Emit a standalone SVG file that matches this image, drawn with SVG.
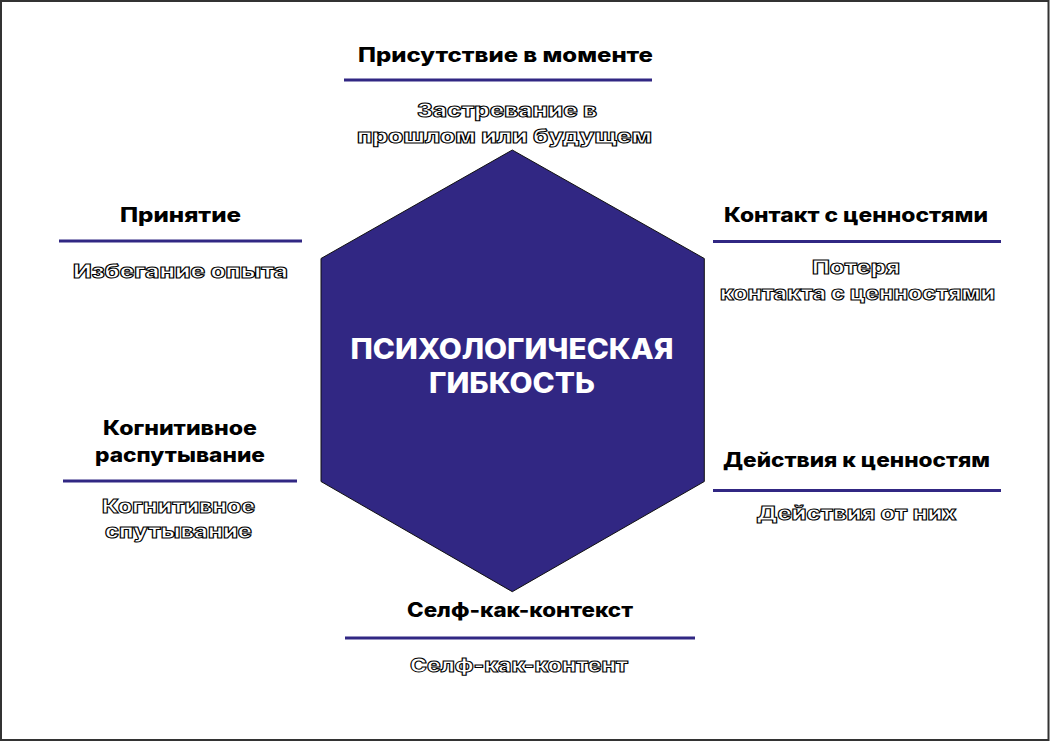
<svg xmlns="http://www.w3.org/2000/svg" width="1050" height="742" viewBox="0 0 1050 742">
<style>
.h{font-family:Inter,"Liberation Sans",sans-serif;font-weight:800;font-size:20px;fill:#000;text-anchor:middle}
.o{font-family:Inter,"Liberation Sans",sans-serif;font-weight:800;font-size:19px;fill:#fff;stroke:#000;stroke-width:1;text-anchor:middle}
.c{font-family:Inter,"Liberation Sans",sans-serif;font-weight:800;font-size:28px;fill:#fff;text-anchor:middle}
.ln{stroke:#312783;stroke-width:3}
</style>
<rect x="0" y="0" width="1050" height="742" fill="#fff"/>
<rect x="1" y="1" width="1047.5" height="739" fill="none" stroke="#333" stroke-width="2"/>
<g id="center">
<polygon points="512.3,150 704.3,258.5 704.3,481.5 512.3,591.7 321,481.5 321,258.5" fill="#312783" stroke="#111" stroke-width="1"/>
<text class="c" x="512" y="359" textLength="323" lengthAdjust="spacingAndGlyphs">ПСИХОЛОГИЧЕСКАЯ</text>
<text class="c" x="512" y="393" textLength="166" lengthAdjust="spacingAndGlyphs">ГИБКОСТЬ</text>
</g>
<g id="connectors">
<line class="ln" x1="344" y1="80" x2="652" y2="80"/>
<line class="ln" x1="59" y1="241" x2="302" y2="241"/>
<line class="ln" x1="713" y1="241.5" x2="1001" y2="241.5"/>
<line class="ln" x1="63" y1="481" x2="297" y2="481"/>
<line class="ln" x1="713" y1="490.5" x2="1001" y2="490.5"/>
<line class="ln" x1="345" y1="638" x2="695" y2="638"/>
</g>
<g id="top">
<text class="h" x="505.5" y="61.5" textLength="295" lengthAdjust="spacingAndGlyphs">Присутствие в моменте</text>
<text class="o" x="507" y="117" textLength="180" lengthAdjust="spacingAndGlyphs">Застревание в</text>
<text class="o" x="504.5" y="143" textLength="295" lengthAdjust="spacingAndGlyphs">прошлом или будущем</text>
</g>
<g id="acceptance">
<text class="h" x="180.5" y="221.5" textLength="121" lengthAdjust="spacingAndGlyphs">Принятие</text>
<text class="o" x="180.5" y="278" textLength="215" lengthAdjust="spacingAndGlyphs">Избегание опыта</text>
</g>
<g id="values">
<text class="h" x="856" y="221.5" textLength="264" lengthAdjust="spacingAndGlyphs">Контакт с ценностями</text>
<text class="o" x="856" y="273.5" textLength="88" lengthAdjust="spacingAndGlyphs">Потеря</text>
<text class="o" x="857.5" y="299.5" textLength="275" lengthAdjust="spacingAndGlyphs">контакта с ценностями</text>
</g>
<g id="defusion">
<text class="h" x="180" y="435" textLength="154" lengthAdjust="spacingAndGlyphs">Когнитивное</text>
<text class="h" x="180" y="461.5" textLength="170" lengthAdjust="spacingAndGlyphs">распутывание</text>
<text class="o" x="178.5" y="513" textLength="153" lengthAdjust="spacingAndGlyphs">Когнитивное</text>
<text class="o" x="178.5" y="538" textLength="147" lengthAdjust="spacingAndGlyphs">спутывание</text>
</g>
<g id="action">
<text class="h" x="856.5" y="466.5" textLength="267" lengthAdjust="spacingAndGlyphs">Действия к ценностям</text>
<text class="o" x="856.5" y="520" textLength="200" lengthAdjust="spacingAndGlyphs">Действия от них</text>
</g>
<g id="self">
<text class="h" x="520" y="616.5" textLength="226" lengthAdjust="spacingAndGlyphs">Селф-как-контекст</text>
<text class="o" x="519" y="671.5" textLength="218" lengthAdjust="spacingAndGlyphs">Селф-как-контент</text>
</g>
</svg>
